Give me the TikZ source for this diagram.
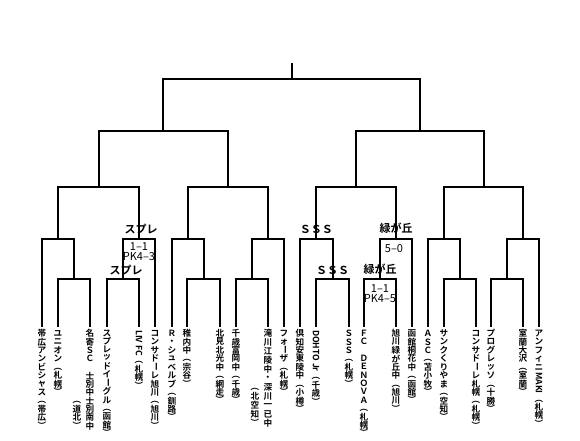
\documentclass[tikz,border=0pt]{standalone}
\usepackage{fontspec}
\usepackage{graphicx}
\setmainfont{Noto Sans CJK JP}[BoldFont={Noto Sans CJK JP Bold}]
\usetikzlibrary{positioning}

% vertical (tategaki) column, one cell per item
\makeatletter
\def\tatepitch{0.98}
\newcommand\tate[1]{\vtop{\offinterlineskip
  \@tfor\tate@c:=#1\do{%
    \setbox0\hbox{\tate@c}%
    \dimen0=\ht0 \advance\dimen0 by \dp0
    \ifdim\dimen0<\tatepitch em \dimen0=\tatepitch em \else \advance\dimen0 by .2em \fi
    \vbox to \dimen0{\vss\hbox to 1em{\hss\box0\hss}\vss}}}}
\makeatother
\newcommand\yoko[1]{\rotatebox{-90}{#1}}
\newcommand\cho{\rotatebox[origin=c]{-90}{\makebox[0.6em]{ー}}}
\newcommand\tlp{\rotatebox[origin=c]{-90}{\makebox[0.5em]{（}}}
\newcommand\trp{\rotatebox[origin=c]{-90}{\makebox[0.5em]{）}}}

\tikzset{
  bline/.style={line width=2pt,black},
  team/.style ={inner sep=0pt,anchor=north,font=\fontsize{8.6}{8.6}\selectfont\bfseries},
  win/.style  ={inner sep=0pt,font=\fontsize{11}{11}\selectfont\bfseries},
  score/.style={inner sep=0pt,align=center,font=\fontsize{11}{10.5}\selectfont},
}
% one match: entrants #1,#2 joined at height #3, winner point #4
\newcommand\bout[4]{%
  \draw[bline] (#1) -- (#1 |- 0,#3) -- (#2 |- 0,#3) -- (#2);
  \path (#1 |- 0,#3) -- coordinate[midway] (#4) (#2 |- 0,#3);}

\begin{document}
\begin{tikzpicture}[x=1pt,y=-1pt]
\fill[white] (0,0) rectangle (580,441);
\useasboundingbox (0,0) rectangle (580,441);

\foreach \i/\x in {1/42,2/58,3/90,4/107,5/139,6/155,7/172,8/187,9/220,10/236,
                   11/268,12/284,13/300,14/316,15/349,16/364,17/396,18/412,
                   19/428,20/444,21/476,22/491,23/523,24/539}
  \coordinate (t\i) at (\x,327);

%% first round
\bout{t2}{t3}{279}{p2}
\bout{t4}{t5}{279}{p4}
\bout{t8}{t9}{279}{p8}
\bout{t10}{t11}{279}{p10}
\bout{t14}{t15}{279}{p14}
\bout{t16}{t17}{279}{p16}
\bout{t20}{t21}{279}{p20}
\bout{t22}{t23}{279}{p22}
%% second round
\bout{t1}{p2}{239}{g1}
\bout{p4}{t6}{239}{g2}
\bout{t7}{p8}{239}{g3}
\bout{p10}{t12}{239}{g4}
\bout{t13}{p14}{239}{g5}
\bout{p16}{t18}{239}{g6}
\bout{t19}{p20}{239}{g7}
\bout{p22}{t24}{239}{g8}
%% later rounds
\bout{g1}{g2}{187}{h1}
\bout{g3}{g4}{187}{h2}
\bout{g5}{g6}{187}{h3}
\bout{g7}{g8}{187}{h4}
\bout{h1}{h2}{131}{q1}
\bout{h3}{h4}{131}{q2}
\bout{q1}{q2}{79}{fin}
\coordinate (top) at (fin |- 0,63);
\draw[bline] (fin) -- (top);

%% team names
\foreach \i/\gap/\nm in {
  1/0.98/帯広アンビシャス\tlp 帯広\trp,
  2/0.98/ユニオン\tlp 札幌\trp,
  3/0.98/名寄ＳＣ{}士別中士別南中,
  4/0.95/スプレッドイ\cho グル\tlp 函館\trp,
  5/0.98/{\yoko{LIV FC}}\tlp 札幌\trp,
  6/0.98/コンサド\cho レ旭川\tlp 旭川\trp,
  7/0.98/Ｒ・シュベルブ\tlp 釧路\trp,
  8/0.98/稚内中\tlp 宗谷\trp,
  9/0.98/北見北光中\tlp 網走\trp,
  10/0.98/千歳富岡中\tlp 千歳\trp,
  11/1.04/滝川江陵中・深川一已中,
  12/0.98/フォ\cho ザ\tlp 札幌\trp,
  13/0.98/倶知安東陵中\tlp 小樽\trp,
  14/0.98/{\yoko{DOHTO Jr}}\tlp 千歳\trp,
  15/0.98/ＳＳＳ\tlp 札幌\trp,
  16/0.97/ＦＣ{}ＤＥＮＯＶＡ\tlp 札幌\trp,
  17/0.98/旭川緑が丘中\tlp 旭川\trp,
  18/0.98/函館桐花中\tlp 函館\trp,
  19/0.98/ＡＳＣ\tlp 苫小牧\trp,
  20/0.98/サンクくりやま\tlp 空知\trp,
  21/0.98/コンサド\cho レ札幌\tlp 札幌\trp,
  22/0.98/プログレッソ\tlp 十勝\trp,
  23/0.98/室蘭大沢\tlp 室蘭\trp,
  24/0.98/アンフィニ{\yoko{MAKI}}\tlp 札幌\trp}
  \node[team] (n\i) at ([yshift=-2pt]t\i) {\def\tatepitch{\gap}\expandafter\tate\expandafter{\nm}};
\node[team,anchor=south] (n3b) at ([xshift=-13pt]n3.south) {\tate{\tlp 道北\trp}};
\node[team,anchor=south] (n11b) at ([xshift=-13pt]n11.south) {\def\tatepitch{1.04}\tate{\tlp 北空知\trp}};

%% winners and scores
\node[win,above=5pt of g2,xshift=2pt] (w2) {スプレ};
\node[win,above=4pt of p4,xshift=3pt] (w4) {スプレ};
\node[score,below=3pt of g2] (s2) {1–1\\PK4–3};
\node[win,above=5pt of g5] (w13) {ＳＳＳ};
\node[win,above=4pt of p14] (w14) {ＳＳＳ};
\node[win,above=5pt of g6] (w18) {緑が丘};
\node[score,below=5pt of g6,xshift=-2pt] (s18) {5–0};
\node[win,above=4pt of p16] (w16) {緑が丘};
\node[score,below=5pt of p16] (s16) {1–1\\PK4–5};
\end{tikzpicture}
\end{document}
